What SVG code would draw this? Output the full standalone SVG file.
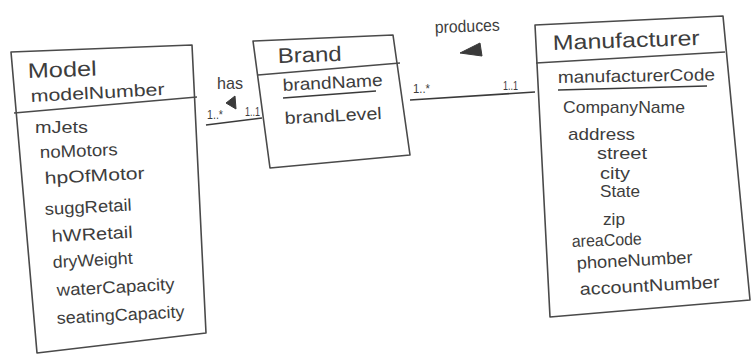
<svg xmlns="http://www.w3.org/2000/svg" width="752" height="356" viewBox="0 0 752 356">
<style>
.box{fill:none;stroke:#4a4a4a;stroke-width:1.6;stroke-linejoin:round}
.ln{fill:none;stroke:#3a3a3a;stroke-width:1.6}
.tri{fill:#3a3a3a;stroke:#3a3a3a;stroke-width:1}
text{font-family:"Liberation Sans","DejaVu Sans",sans-serif;fill:#3d3d3d;lengthAdjust:spacingAndGlyphs}
.t{font-size:21px}
.a{font-size:17px}
.m{font-size:12px}
</style>
<rect width="752" height="356" fill="#ffffff"/>
<g id="connectors">
<path class="ln" d="M206,125 L262,118"/>
<path class="ln" d="M410,100 L535,92"/>
<polygon class="tri" points="226,103 235,96 236,109"/>
<polygon class="tri" points="460,53 480,43 482,56"/>
<text class="a" x="217" y="89" textLength="26" lengthAdjust="spacingAndGlyphs">has</text>
<text class="m" x="207" y="119" textLength="16" lengthAdjust="spacingAndGlyphs">1..*</text>
<text class="m" x="245" y="116" textLength="15" lengthAdjust="spacingAndGlyphs">1..1</text>
<text class="a" x="435" y="33" textLength="65" lengthAdjust="spacingAndGlyphs" transform="rotate(-2 435 33)">produces</text>
<text class="m" x="413" y="93" textLength="17" lengthAdjust="spacingAndGlyphs">1..*</text>
<text class="m" x="503" y="90" textLength="15" lengthAdjust="spacingAndGlyphs">1..1</text>
</g>
<g id="model">
<polygon class="box" points="11,52 192,45 206,333 37,353"/>
<path class="box" d="M14,113 L197,97"/>
<g transform="rotate(-2 28 78)">
<text class="t" x="28" y="78" textLength="69" lengthAdjust="spacingAndGlyphs">Model</text>
</g>
<text class="a" x="31" y="102" textLength="134" lengthAdjust="spacingAndGlyphs" transform="rotate(-3 31 102)">modelNumber</text>
<text class="a" x="35" y="133" textLength="53" lengthAdjust="spacingAndGlyphs">mJets</text>
<text class="a" x="40" y="158" textLength="78" lengthAdjust="spacingAndGlyphs" transform="rotate(-2 40 158)">noMotors</text>
<text class="a" x="45" y="184" textLength="100" lengthAdjust="spacingAndGlyphs" transform="rotate(-3 45 184)">hpOfMotor</text>
<text class="a" x="45" y="215" textLength="87" lengthAdjust="spacingAndGlyphs" transform="rotate(-3 45 215)">suggRetail</text>
<text class="a" x="52" y="242" textLength="81" lengthAdjust="spacingAndGlyphs" transform="rotate(-3 52 242)">hWRetail</text>
<text class="a" x="53" y="268" textLength="80" lengthAdjust="spacingAndGlyphs" transform="rotate(-3 53 268)">dryWeight</text>
<text class="a" x="57" y="296" textLength="118" lengthAdjust="spacingAndGlyphs" transform="rotate(-3 57 296)">waterCapacity</text>
<text class="a" x="57" y="324" textLength="128" lengthAdjust="spacingAndGlyphs" transform="rotate(-3 57 324)">seatingCapacity</text>
</g>
<g id="brand">
<polygon class="box" points="253,41 393,35 410,155 270,168"/>
<path class="box" d="M258,75 L400,63"/>
<text class="t" x="278" y="63" textLength="64" lengthAdjust="spacingAndGlyphs" transform="rotate(-2 278 63)">Brand</text>
<text class="a" x="283" y="91" textLength="100" lengthAdjust="spacingAndGlyphs" transform="rotate(-3 283 91)">brandName</text>
<path class="ln" d="M283,98 L376,91"/>
<text class="a" x="285" y="124" textLength="97" lengthAdjust="spacingAndGlyphs" transform="rotate(-3 285 124)">brandLevel</text>
</g>
<g id="manufacturer">
<polygon class="box" points="535,25 723,16 750,300 550,317"/>
<path class="box" d="M536,63 L725,52"/>
<text class="t" x="553" y="50" textLength="147" lengthAdjust="spacingAndGlyphs" transform="rotate(-2 553 50)">Manufacturer</text>
<text class="a" x="558" y="83" textLength="157" lengthAdjust="spacingAndGlyphs" transform="rotate(-1 558 83)">manufacturerCode</text>
<path class="ln" d="M558,90 L707,86"/>
<text class="a" x="563" y="113" textLength="122" lengthAdjust="spacingAndGlyphs">CompanyName</text>
<text class="a" x="568" y="140" textLength="67" lengthAdjust="spacingAndGlyphs">address</text>
<text class="a" x="597" y="159" textLength="50" lengthAdjust="spacingAndGlyphs">street</text>
<text class="a" x="600" y="179" textLength="30" lengthAdjust="spacingAndGlyphs">city</text>
<text class="a" x="600" y="197" textLength="40" lengthAdjust="spacingAndGlyphs">State</text>
<text class="a" x="603" y="225" textLength="22" lengthAdjust="spacingAndGlyphs">zip</text>
<text class="a" x="572" y="247" textLength="70" lengthAdjust="spacingAndGlyphs" transform="rotate(-2 572 247)">areaCode</text>
<text class="a" x="577" y="269" textLength="116" lengthAdjust="spacingAndGlyphs" transform="rotate(-3 577 269)">phoneNumber</text>
<text class="a" x="580" y="295" textLength="140" lengthAdjust="spacingAndGlyphs" transform="rotate(-3 580 295)">accountNumber</text>
</g>
</svg>
